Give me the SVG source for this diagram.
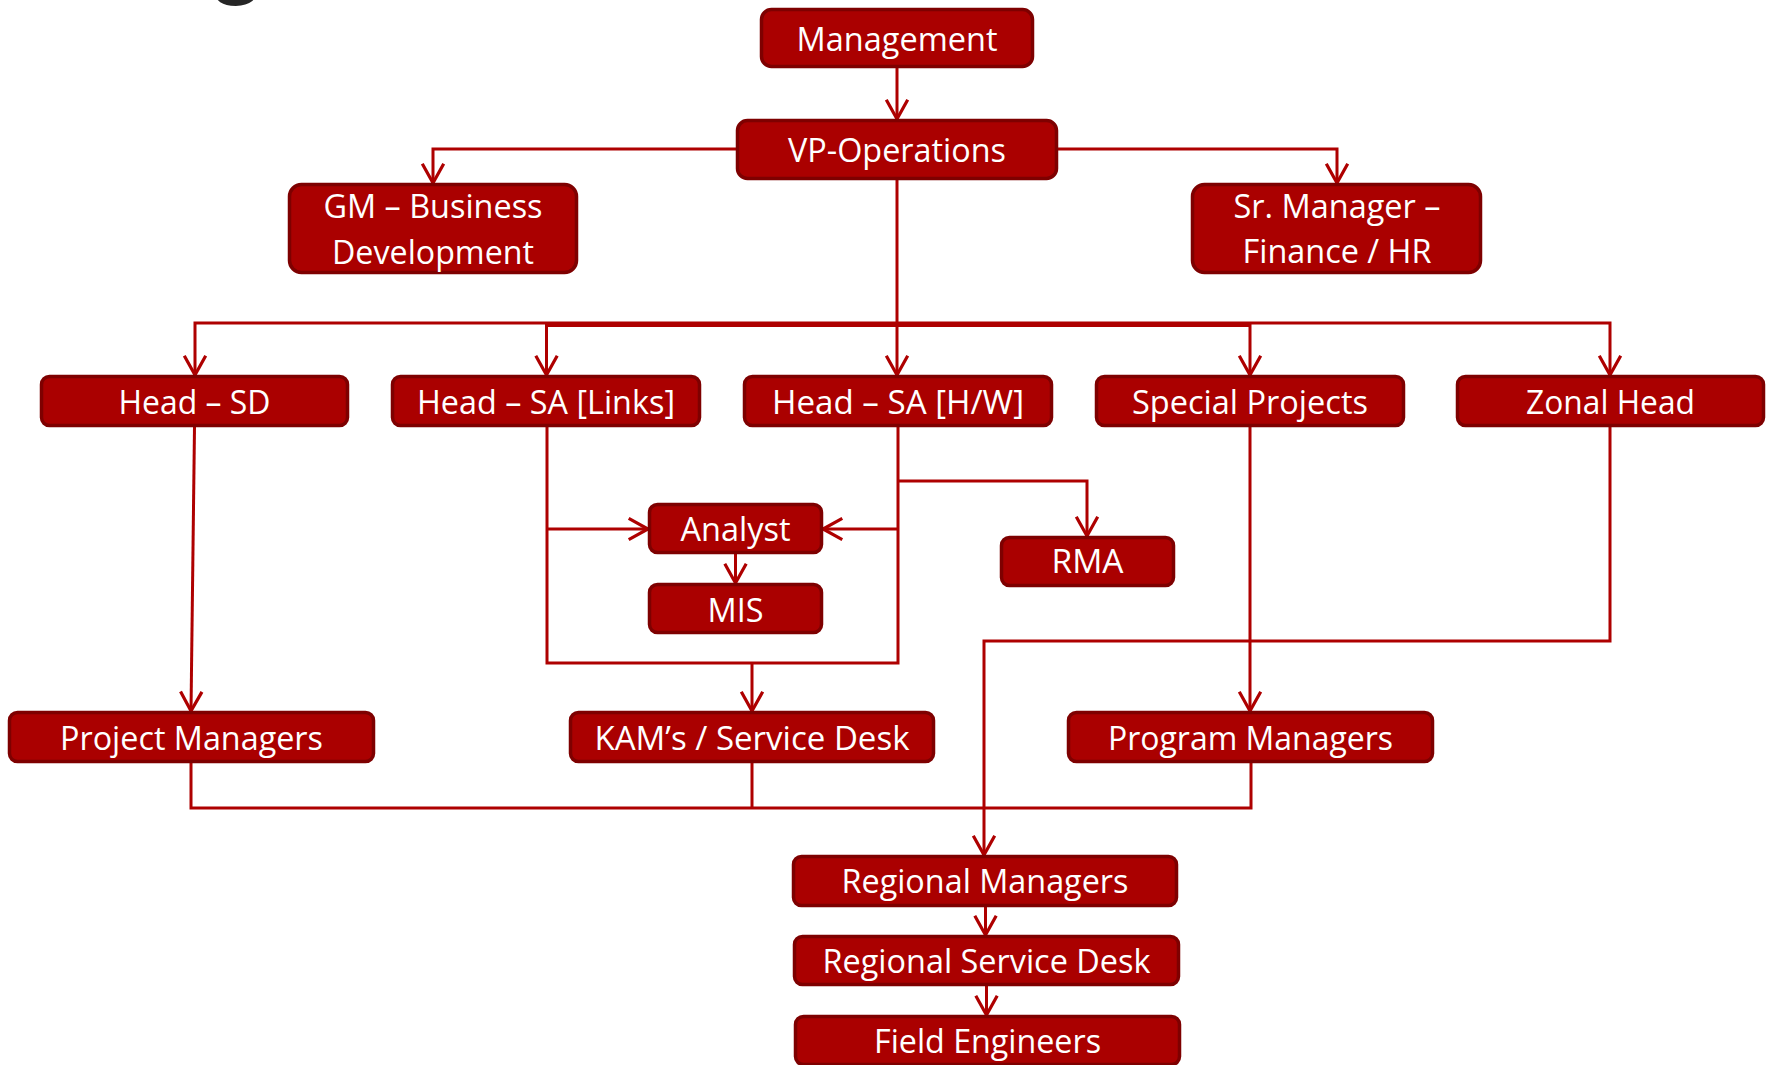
<svg xmlns="http://www.w3.org/2000/svg" width="1769" height="1065" viewBox="0 0 1769 1065">
<style>
.box{fill:#AA0000;stroke:#7E0000;stroke-width:3.5}
.t{fill:#FFFFFF;font-family:"Open Sans","Liberation Sans",sans-serif;font-size:33px;text-anchor:middle}
.c{fill:none;stroke:#AE0000;stroke-width:3;stroke-linejoin:miter}
.a{marker-end:url(#arr)}
</style>
<defs>
<marker id="arr" markerUnits="userSpaceOnUse" markerWidth="30" markerHeight="30" refX="0" refY="0" viewBox="-22 -14 26 28" orient="auto" overflow="visible">
<path d="M-18,-10 L0,0 L-18,10" fill="none" stroke="#AE0000" stroke-width="3"/>
</marker>
</defs>
<rect width="1769" height="1065" fill="#FFFFFF"/>
<text x="213" y="-11" font-family="Lato,'Open Sans',sans-serif" font-weight="bold" font-size="90" fill="#262626">g</text>
<g id="connectors">
<path class="c a" d="M897,68 V119"/>
<path class="c a" d="M736,149 H433 V183"/>
<path class="c a" d="M1058,149 H1337 V183"/>
<path class="c a" d="M897,180 V375"/>
<path class="c a" d="M897,323 H195 V375"/>
<path class="c a" d="M897,323 H1610 V375"/>
<path class="c a" d="M897,325.5 H546.5 V375"/>
<path class="c a" d="M897,325.5 H1250 V375"/>
<path class="c a" d="M194.5,427 L191,711"/>
<path class="c" d="M547,427 V663 H898 V427"/>
<path class="c a" d="M547,529 H648"/>
<path class="c a" d="M898,529 H823"/>
<path class="c a" d="M898,481 H1087 V536"/>
<path class="c a" d="M752,663 V711"/>
<path class="c a" d="M735.5,554 V583"/>
<path class="c a" d="M1250,427 V711"/>
<path class="c a" d="M1610,427 V641 H984 V855"/>
<path class="c" d="M191,763 V808 H1251 V763"/>
<path class="c" d="M752,763 V808"/>
<path class="c a" d="M985.5,907 V935"/>
<path class="c a" d="M986.5,986 V1015"/>
</g>
<g id="management"><rect class="box" x="761.5" y="9.5" width="271" height="57" rx="10"/><text class="t" x="897" y="50.7" textLength="201" lengthAdjust="spacingAndGlyphs">Management</text></g>
<g id="vp-operations"><rect class="box" x="737.5" y="120.5" width="319" height="58" rx="10"/><text class="t" x="897" y="162.3" textLength="218" lengthAdjust="spacingAndGlyphs">VP-Operations</text></g>
<g id="gm-business-development"><rect class="box" x="289.5" y="184.5" width="287" height="88" rx="12"/><text class="t" x="433" y="218.3" textLength="219" lengthAdjust="spacingAndGlyphs">GM – Business</text><text class="t" x="433" y="264.3" textLength="202" lengthAdjust="spacingAndGlyphs">Development</text></g>
<g id="sr-manager-finance-hr"><rect class="box" x="1192.5" y="184.5" width="288" height="88" rx="12"/><text class="t" x="1337" y="218.3" textLength="207" lengthAdjust="spacingAndGlyphs">Sr. Manager –</text><text class="t" x="1337" y="263.3" textLength="189" lengthAdjust="spacingAndGlyphs">Finance / HR</text></g>
<g id="head-sd"><rect class="box" x="41.5" y="376.5" width="306" height="49" rx="8"/><text class="t" x="194.5" y="414" textLength="152" lengthAdjust="spacingAndGlyphs">Head – SD</text></g>
<g id="head-sa-links"><rect class="box" x="392.5" y="376.5" width="307" height="49" rx="8"/><text class="t" x="546" y="414" textLength="258" lengthAdjust="spacingAndGlyphs">Head – SA [Links]</text></g>
<g id="head-sa-hw"><rect class="box" x="744.5" y="376.5" width="307" height="49" rx="8"/><text class="t" x="898" y="414" textLength="252" lengthAdjust="spacingAndGlyphs">Head – SA [H/W]</text></g>
<g id="special-projects"><rect class="box" x="1096.5" y="376.5" width="307" height="49" rx="8"/><text class="t" x="1250" y="414" textLength="236" lengthAdjust="spacingAndGlyphs">Special Projects</text></g>
<g id="zonal-head"><rect class="box" x="1457.5" y="376.5" width="306" height="49" rx="8"/><text class="t" x="1610.5" y="414" textLength="169" lengthAdjust="spacingAndGlyphs">Zonal Head</text></g>
<g id="analyst"><rect class="box" x="649.5" y="504.5" width="172" height="48" rx="8"/><text class="t" x="735.5" y="541" textLength="110" lengthAdjust="spacingAndGlyphs">Analyst</text></g>
<g id="mis"><rect class="box" x="649.5" y="584.5" width="172" height="48" rx="8"/><text class="t" x="735.5" y="622" textLength="56" lengthAdjust="spacingAndGlyphs">MIS</text></g>
<g id="rma"><rect class="box" x="1001.5" y="537.5" width="172" height="48" rx="8"/><text class="t" x="1087.5" y="573" textLength="72" lengthAdjust="spacingAndGlyphs">RMA</text></g>
<g id="project-managers"><rect class="box" x="9.5" y="712.5" width="364" height="49" rx="8"/><text class="t" x="191.5" y="750" textLength="263" lengthAdjust="spacingAndGlyphs">Project Managers</text></g>
<g id="kams-service-desk"><rect class="box" x="570.5" y="712.5" width="363" height="49" rx="8"/><text class="t" x="752" y="750" textLength="315" lengthAdjust="spacingAndGlyphs">KAM’s / Service Desk</text></g>
<g id="program-managers"><rect class="box" x="1068.5" y="712.5" width="364" height="49" rx="8"/><text class="t" x="1250.5" y="750" textLength="285" lengthAdjust="spacingAndGlyphs">Program Managers</text></g>
<g id="regional-managers"><rect class="box" x="793.5" y="856.5" width="383" height="49" rx="8"/><text class="t" x="985" y="892.5" textLength="287" lengthAdjust="spacingAndGlyphs">Regional Managers</text></g>
<g id="regional-service-desk"><rect class="box" x="794.5" y="936.5" width="384" height="48" rx="8"/><text class="t" x="986.5" y="973" textLength="328" lengthAdjust="spacingAndGlyphs">Regional Service Desk</text></g>
<g id="field-engineers"><rect class="box" x="795.5" y="1016.5" width="384" height="48" rx="8"/><text class="t" x="987.5" y="1053" textLength="227" lengthAdjust="spacingAndGlyphs">Field Engineers</text></g>
</svg>
